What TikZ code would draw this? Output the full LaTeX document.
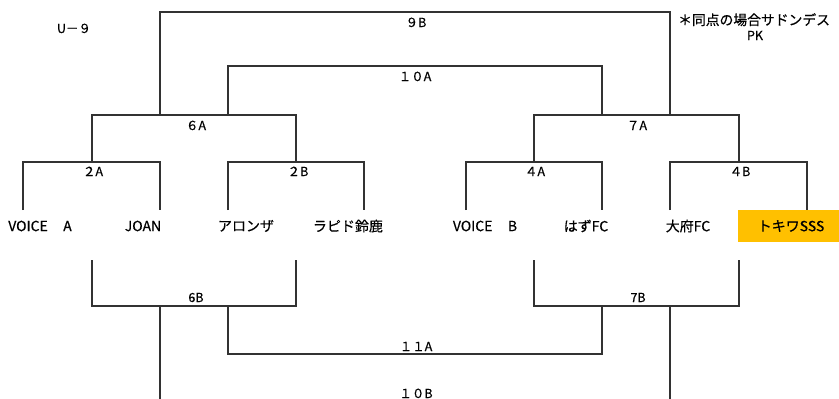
\documentclass[tikz,border=0pt]{standalone}
\usepackage{fontspec}
\setmainfont{Noto Sans CJK JP}[FakeBold=0.5]
\usepackage{tikz}
\definecolor{tokiwaorange}{RGB}{255,192,0}
\definecolor{linegray}{RGB}{50,50,50}
\tikzset{
  bracket/.style={draw=linegray, line width=1.2pt},
  team/.style={inner sep=0pt, font=\fontsize{14}{16}\selectfont},
  match/.style={inner sep=0pt, anchor=base, font=\fontsize{12.5}{14}\selectfont}
}

\begin{document}
\begin{tikzpicture}[x=1pt,y=1pt,yscale=-1,xscale=1]
\useasboundingbox (0,0) rectangle (839,399);
% Text Node
\node [match] (title) at (74,33) {U－９};
% Text Node
\node [match, anchor=base west, font=\fontsize{13.8}{15}\selectfont] (note) at (678,25) {＊同点の場合サドンデス};
% Text Node
\node [match] (pk) at (755,40) {PK};
%Team Nodes
\fill [tokiwaorange] (738,210) rectangle (839,242);
\node [team] (voicea) at (40,226) {VOICE\hspace{1.1em}A};
\node [team] (joan) at (143,226) {JOAN};
\node [team] (alonza) at (246,226) {アロンザ};
\node [team] (rapid) at (348,226) {ラピド鈴鹿};
\node [team] (voiceb) at (485,226) {VOICE\hspace{1.1em}B};
\node [team] (hazu) at (586,226) {はずFC};
\node [team] (obu) at (688,226) {大府FC};
\node [team] (tokiwa) at (791,226) {トキワSSS};
%Bracket Points
\coordinate (t1) at (23,210);
\coordinate (t2) at (160,210);
\coordinate (t3) at (228,210);
\coordinate (t4) at (364,210);
\coordinate (t5) at (466,210);
\coordinate (t6) at (602,210);
\coordinate (t7) at (670,210);
\coordinate (t8) at (807,210);
\coordinate (w2a) at (92,162);
\coordinate (w2b) at (296,162);
\coordinate (w4a) at (534,162);
\coordinate (w4b) at (739,162);
\coordinate (w6a) at (160,115);
\coordinate (x6a) at (228,115);
\coordinate (x7a) at (602,115);
\coordinate (w7a) at (670,115);
\coordinate (l2a) at (92,260);
\coordinate (l2b) at (296,260);
\coordinate (l4a) at (534,260);
\coordinate (l4b) at (739,260);
\coordinate (l6b) at (160,306);
\coordinate (x6b) at (228,306);
\coordinate (x7b) at (602,306);
\coordinate (l7b) at (670,306);
%Straight Lines
\draw [bracket] (t1) -- ++(0,-48) -| (t2);
\draw [bracket] (t3) -- ++(0,-48) -| (t4);
\draw [bracket] (t5) -- ++(0,-48) -| (t6);
\draw [bracket] (t7) -- ++(0,-48) -| (t8);
%Straight Lines
\draw [bracket] (w2a) -- ++(0,-47) -| (w2b);
\draw [bracket] (w4a) -- ++(0,-47) -| (w4b);
%Straight Lines
\draw [bracket] (w6a) -- ++(0,-103) -| (w7a);
\draw [bracket] (x6a) -- ++(0,-49) -| (x7a);
%Straight Lines
\draw [bracket] (l2a) -- ++(0,46) -| (l2b);
\draw [bracket] (l4a) -- ++(0,46) -| (l4b);
\draw [bracket] (x6b) -- ++(0,48) -| (x7b);
\draw [bracket] (l6b) -- ++(0,95);
\draw [bracket] (l7b) -- ++(0,95);
% Text Node
\node [match] (m9b) at (416,27) {９B};
\node [match] (m10a) at (415,81) {１０A};
\node [match] (m6a) at (196,130) {６A};
\node [match] (m7a) at (637,130) {７A};
\node [match] (m2a) at (93,176) {２A};
\node [match] (m2b) at (298,176) {２B};
\node [match] (m4a) at (535,176) {４A};
\node [match] (m4b) at (740,176) {４B};
\node [match] (m6b) at (196,302) {6B};
\node [match] (m7b) at (638,302) {7B};
\node [match] (m11a) at (416,351) {１１A};
\node [match] (m10b) at (416,398) {１０B};
\end{tikzpicture}
\end{document}
